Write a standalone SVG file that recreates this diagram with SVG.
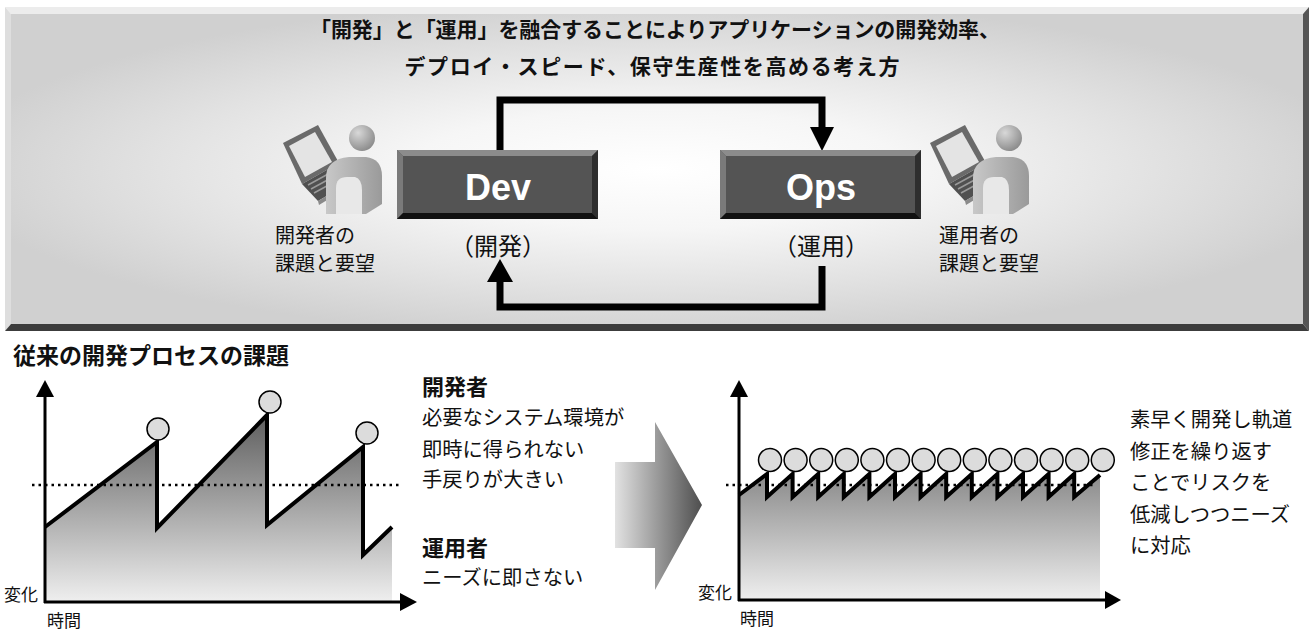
<svg xmlns="http://www.w3.org/2000/svg" width="1310" height="631" viewBox="0 0 1310 631">
  <defs>
    <radialGradient id="panelFace" cx="0.5" cy="0.5" r="0.55">
      <stop offset="0" stop-color="#ffffff"/>
      <stop offset="0.35" stop-color="#f6f6f6"/>
      <stop offset="0.7" stop-color="#e2e2e2"/>
      <stop offset="1" stop-color="#d0d0d0"/>
    </radialGradient>
    <linearGradient id="areaLeft" x1="0" y1="415" x2="0" y2="602" gradientUnits="userSpaceOnUse">
      <stop offset="0" stop-color="#5e5e5e"/>
      <stop offset="1" stop-color="#efefef"/>
    </linearGradient>
    <linearGradient id="areaRight" x1="0" y1="474" x2="0" y2="600" gradientUnits="userSpaceOnUse">
      <stop offset="0" stop-color="#8a8a8a"/>
      <stop offset="1" stop-color="#efefef"/>
    </linearGradient>
    <linearGradient id="bigArrow" x1="615" y1="0" x2="702" y2="0" gradientUnits="userSpaceOnUse">
      <stop offset="0" stop-color="#e2e2e2"/>
      <stop offset="1" stop-color="#4e4e4e"/>
    </linearGradient>
    <radialGradient id="head" cx="0.35" cy="0.3" r="0.75">
      <stop offset="0" stop-color="#d8d8d8"/>
      <stop offset="1" stop-color="#8a8a8a"/>
    </radialGradient>
    <linearGradient id="body" x1="0" y1="0" x2="1" y2="0">
      <stop offset="0" stop-color="#c8c8c8"/>
      <stop offset="1" stop-color="#9a9a9a"/>
    </linearGradient>
    <style>
      .jp { font-family: "Noto Sans CJK JP", "Noto Sans", sans-serif; fill: #111; }
      .title { font-size: 21px; font-weight: bold; text-anchor: middle; }
      .who { font-size: 20px; }
      .paren { font-size: 24px; text-anchor: middle; }
      .boxlabel { font-family: "Liberation Sans", Arial, sans-serif; font-weight: bold; font-size: 36px; fill: #fff; text-anchor: middle; }
      .head2 { font-size: 22px; font-weight: bold; }
      .section { font-size: 23px; font-weight: bold; }
      .body { font-size: 20.3px; }
      .axis { font-size: 17px; }
      .conn { fill: none; stroke: #000; stroke-width: 7; }
      .saw { fill: none; stroke: #000; stroke-width: 4; stroke-linejoin: miter; }
      .ax { stroke: #000; stroke-width: 3; }
      .dots { stroke: #000; stroke-width: 2.5; stroke-dasharray: 2.5 4; }
      .peak { fill: #dcdcdc; stroke: #000; stroke-width: 1.5; }
    </style>
    <!-- laptop user pictogram -->
    <g id="user">
      <path d="M283,143 L318,125 L339,163 L302,184 Z" fill="#6a6a6a"/>
      <path d="M289,146 L315,132 L332,162 L305,177 Z" fill="#e4e4e4"/>
      <path d="M302,184 L339,163 L352,181 L318,201 Z" fill="#505050"/>
      <path d="M308,185 L341,167 M311,189 L344,171 M314,193 L347,175" stroke="#9a9a9a" stroke-width="1.5"/>
      <path d="M318,201 L352,181 L352,185 L319,205 Z" fill="#8a8a8a"/>
      <path d="M326,214 V178 Q326,159 349,157 H366 Q382,159 382,176 V204 L366,214 Z" fill="url(#body)"/>
      <path d="M336,214 V188 Q336,177 347,177 H355 Q362,179 362,190 V214 Z" fill="#e8e8e8"/>
      <circle cx="362" cy="138" r="13" fill="url(#head)"/>
    </g>
  </defs>

  <!-- bevelled top panel -->
  <g id="panel">
    <rect x="11" y="14" width="1292" height="310" fill="url(#panelFace)"/>
    <polygon points="5,7 1309,7 1303,14 11,14" fill="#ececec"/>
    <polygon points="5,7 11,14 11,324 5,331" fill="#dedede"/>
    <polygon points="1309,7 1309,331 1303,324 1303,14" fill="#555"/>
    <polygon points="5,331 1309,331 1303,324 11,324" fill="#3c3c3c"/>
    <text class="jp title" x="655" y="37" textLength="690" lengthAdjust="spacing">「開発」と「運用」を融合することによりアプリケーションの開発効率、</text>
    <text class="jp title" x="652" y="74" textLength="495" lengthAdjust="spacing">デプロイ・スピード、保守生産性を高める考え方</text>
  </g>

  <!-- loop connectors -->
  <g id="connectors">
    <path class="conn" d="M500,151 V100 H822 V128"/>
    <polygon points="810,127 834,127 822,151" fill="#000"/>
    <path class="conn" d="M822,266 V307 H500 V281"/>
    <polygon points="487,282 513,282 500,259" fill="#000"/>
  </g>

  <g id="dev-user">
    <use href="#user"/>
    <text class="jp who" x="275" y="243">開発者の</text>
    <text class="jp who" x="275" y="271">課題と要望</text>
  </g>

  <g id="ops-user">
    <use href="#user" transform="translate(647,0)"/>
    <text class="jp who" x="939" y="243">運用者の</text>
    <text class="jp who" x="939" y="271">課題と要望</text>
  </g>

  <g id="dev">
    <rect x="397" y="150" width="201" height="69" fill="#545454"/>
    <polygon points="397,150 598,150 592,156 403,156" fill="#8c8c8c"/>
    <polygon points="397,150 403,156 403,213 397,219" fill="#7a7a7a"/>
    <polygon points="598,150 598,219 592,213 592,156" fill="#2e2e2e"/>
    <polygon points="397,219 598,219 592,213 403,213" fill="#111"/>
    <text class="boxlabel" x="498" y="200">Dev</text>
    <text class="jp paren" x="498" y="255">（開発）</text>
  </g>

  <g id="ops">
    <rect x="720" y="150" width="201" height="69" fill="#545454"/>
    <polygon points="720,150 921,150 915,156 726,156" fill="#8c8c8c"/>
    <polygon points="720,150 726,156 726,213 720,219" fill="#7a7a7a"/>
    <polygon points="921,150 921,219 915,213 915,156" fill="#2e2e2e"/>
    <polygon points="720,219 921,219 915,213 726,213" fill="#111"/>
    <text class="boxlabel" x="821" y="200">Ops</text>
    <text class="jp paren" x="821" y="255">（運用）</text>
  </g>

  <text class="jp section" x="13" y="364">従来の開発プロセスの課題</text>

  <!-- conventional process chart -->
  <g id="chart-before">
    <path d="M45,527 L157,442 V528 L267,415 V525 L363,447 V555 L392,527 V602 H45 Z" fill="url(#areaLeft)"/>
    <line class="dots" x1="32" y1="485" x2="400" y2="485"/>
    <path class="saw" d="M45,527 L157,442 V528 L267,415 V525 L363,447 V555 L392,527"/>
    <circle class="peak" cx="158" cy="429" r="11"/>
    <circle class="peak" cx="270" cy="402" r="11"/>
    <circle class="peak" cx="367" cy="433" r="11"/>
    <line class="ax" x1="45" y1="603" x2="45" y2="395"/>
    <polygon points="36,397 54,397 45,380" fill="#000"/>
    <line class="ax" x1="44" y1="602" x2="402" y2="602"/>
    <polygon points="400,593 400,611 417,602" fill="#000"/>
    <text class="jp axis" x="4" y="601">変化</text>
    <text class="jp axis" x="47" y="627">時間</text>
  </g>

  <g id="issues">
    <text class="jp head2" x="422" y="395">開発者</text>
    <text class="jp body" x="422" y="425">必要なシステム環境が</text>
    <text class="jp body" x="422" y="457">即時に得られない</text>
    <text class="jp body" x="422" y="487">手戻りが大きい</text>
    <text class="jp head2" x="422" y="556">運用者</text>
    <text class="jp body" x="422" y="585">ニーズに即さない</text>
  </g>

  <polygon id="transition" points="615,462 655,462 655,422 702,505 655,590 655,548 615,548" fill="url(#bigArrow)"/>

  <!-- iterative process chart -->
  <g id="chart-after">
    <path d="M739,495 L767,474 V497 L792.6,474 V497 L818.2,474 V497 L843.8,474 V497 L869.4,474 V497 L895,474 V497 L920.6,474 V497 L946.2,474 V497 L971.8,474 V497 L997.4,474 V497 L1023,474 V497 L1048.6,474 V497 L1074.2,474 V497 L1100,475 V600 H739 Z" fill="url(#areaRight)"/>
    <line class="dots" x1="726" y1="485" x2="1093" y2="485"/>
    <path class="saw" d="M739,495 L767,474 V497 L792.6,474 V497 L818.2,474 V497 L843.8,474 V497 L869.4,474 V497 L895,474 V497 L920.6,474 V497 L946.2,474 V497 L971.8,474 V497 L997.4,474 V497 L1023,474 V497 L1048.6,474 V497 L1074.2,474 V497 L1100,475"/>
    <g>
      <circle class="peak" cx="770" cy="460" r="11.5"/>
      <circle class="peak" cx="795.6" cy="460" r="11.5"/>
      <circle class="peak" cx="821.2" cy="460" r="11.5"/>
      <circle class="peak" cx="846.8" cy="460" r="11.5"/>
      <circle class="peak" cx="872.4" cy="460" r="11.5"/>
      <circle class="peak" cx="898" cy="460" r="11.5"/>
      <circle class="peak" cx="923.6" cy="460" r="11.5"/>
      <circle class="peak" cx="949.2" cy="460" r="11.5"/>
      <circle class="peak" cx="974.8" cy="460" r="11.5"/>
      <circle class="peak" cx="1000.4" cy="460" r="11.5"/>
      <circle class="peak" cx="1026" cy="460" r="11.5"/>
      <circle class="peak" cx="1051.6" cy="460" r="11.5"/>
      <circle class="peak" cx="1077.2" cy="460" r="11.5"/>
      <circle class="peak" cx="1102.8" cy="460" r="11.5"/>
    </g>
    <line class="ax" x1="739" y1="601" x2="739" y2="395"/>
    <polygon points="730,397 748,397 739,380" fill="#000"/>
    <line class="ax" x1="738" y1="600" x2="1107" y2="600"/>
    <polygon points="1105,591 1105,609 1121,600" fill="#000"/>
    <text class="jp axis" x="698" y="599">変化</text>
    <text class="jp axis" x="740" y="625">時間</text>
  </g>

  <g id="benefit">
    <text class="jp body" x="1130" y="427">素早く開発し軌道</text>
    <text class="jp body" x="1130" y="459">修正を繰り返す</text>
    <text class="jp body" x="1130" y="490">ことでリスクを</text>
    <text class="jp body" x="1130" y="522">低減しつつニーズ</text>
    <text class="jp body" x="1130" y="553">に対応</text>
  </g>
</svg>
